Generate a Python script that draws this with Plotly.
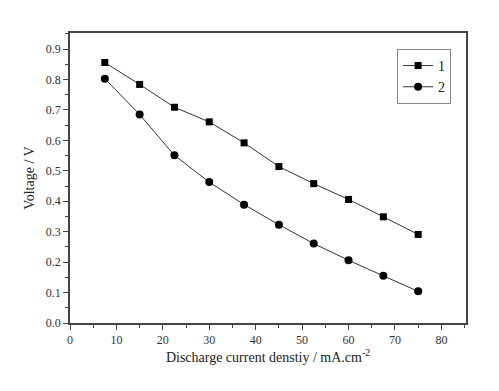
import plotly.graph_objects as go

current = [7.5, 15, 22.5, 30, 37.5, 45, 52.5, 60, 67.5, 75]
voltage_1 = [0.856, 0.784, 0.709, 0.661, 0.592, 0.514, 0.458, 0.406, 0.349, 0.291]
voltage_2 = [0.803, 0.685, 0.551, 0.463, 0.389, 0.323, 0.261, 0.206, 0.155, 0.104]
series_names = ["1", "2"]

font = "Liberation Serif, Times New Roman, serif"

fig = go.Figure()
fig.add_trace(go.Scatter(x=current, y=voltage_1, name=series_names[0], mode="lines+markers",
                         line=dict(color="#333333", width=1),
                         marker=dict(symbol="square", size=7, color="black")))
fig.add_trace(go.Scatter(x=current, y=voltage_2, name=series_names[1], mode="lines+markers",
                         line=dict(color="#333333", width=1),
                         marker=dict(symbol="circle", size=8, color="black")))

axis_common = dict(showline=True, linecolor="#444444", linewidth=1.5, mirror=True,
                   ticks="outside", ticklen=5, tickcolor="#444444", tickwidth=1,
                   showgrid=False, zeroline=False, automargin=False,
                   tickfont=dict(family=font, size=12, color="#333333"),
                   minor=dict(ticks="outside", ticklen=3, tickcolor="#444444", tickwidth=1))

fig.update_xaxes(range=[0, 85.3], dtick=10, tick0=0, minor_dtick=5,
                 title=dict(text="Discharge current denstiy / mA.cm<sup>-2</sup>",
                            font=dict(family=font, size=14, color="#222222"), standoff=6),
                 **axis_common)
fig.update_yaxes(range=[0, 0.953], dtick=0.1, tick0=0, minor_dtick=0.05, tickformat=".1f",
                 title=dict(text="Voltage / V", font=dict(family=font, size=14, color="#222222"), standoff=8),
                 **axis_common)

fig.update_layout(
    width=499, height=391,
    margin=dict(l=70, r=33, t=33, b=68),
    plot_bgcolor="white", paper_bgcolor="white",
    font=dict(family=font),
    legend=dict(x=0.826, y=0.945, xanchor="left", yanchor="top",
                bordercolor="#888888", borderwidth=1, bgcolor="white",
                font=dict(family=font, size=14, color="#222222"),
                tracegroupgap=0, itemwidth=30),
)

fig.write_html("out.html", config={"displayModeBar": False},
               post_script="document.body.style.margin='0';")
